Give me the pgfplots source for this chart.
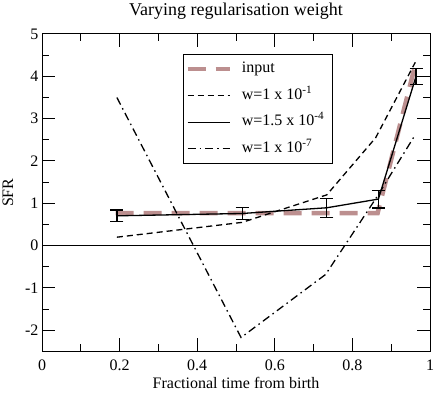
\documentclass[border=0pt]{standalone}
\usepackage{fontspec}
\setmainfont{Liberation Serif}
\usepackage{pgfplots}
\pgfplotsset{compat=1.18}
\definecolor{rosy}{RGB}{188,143,143}
\newcommand{\sz}{\fontsize{16bp}{19bp}\selectfont}

\begin{document}
\begin{tikzpicture}
\begin{axis}[
  scale only axis,
  width=388bp, height=317.5bp,
  xmin=0, xmax=1, ymin=-2.5, ymax=5,
  xtick={0,0.2,0.4,0.6,0.8,1},
  xticklabels={0,0.2,0.4,0.6,0.8,1},
  minor xtick={0.1,0.3,0.5,0.7,0.9},
  ytick={-2,-1,0,1,2,3,4,5},
  minor ytick={-1.5,-0.5,0.5,1.5,2.5,3.5,4.5},
  major tick length=13bp, minor tick length=7bp,
  axis line style={line width=1bp},
  every tick/.style={black, line width=1bp},
  /pgf/number format/assume math mode=true,
  tick label style={font=\sz},
  xticklabel style={yshift=-4.5bp},
  every axis x label/.style={at={(axis description cs:0.5,-0.1165)}, anchor=base, font=\sz},
  every axis y label/.style={at={(axis description cs:-0.0876,0.5)}, rotate=90, anchor=center, font=\sz},
  xlabel={Fractional time from birth},
  ylabel={SFR},
  title={Varying regularisation weight},
  every axis title/.style={at={(axis description cs:0.5,1.0589)}, anchor=base,
    font=\fontsize{18bp}{21bp}\selectfont},
  legend image code/.code={\draw[#1] (0bp,0bp) -- (42bp,0bp);},
  legend cell align=left,
  legend style={at={(0.363,0.937)}, anchor=north west, draw=black, line width=1bp,
    inner xsep=2bp, inner ysep=1.5bp, column sep=4bp, font=\sz,
    nodes={inner xsep=6bp, inner ysep=6bp, text height=11bp, text depth=3.5bp}},
]
\addplot[black, line width=1bp, forget plot] coordinates {(0,0) (1,0)};
\addplot[rosy, line width=4.5bp, dash pattern=on 18bp off 10bp] coordinates {
  (0.19,0.77) (0.865,0.77) (0.962,4.27)};
\addlegendentry{input}
\addplot[black, line width=1.3bp, dash pattern=on 6bp off 4bp] coordinates {
  (0.193,0.2) (0.516,0.55) (0.734,1.2) (0.86,2.55) (0.962,4.33)};
\addlegendentry{w=1 x 10\textsuperscript{-1}}
\addplot[black, line width=1.3bp,
  error bars/.cd, y dir=both, y explicit,
  error bar style={line width=1.3bp, solid},
  error mark options={rotate=90, mark size=6.5bp, line width=1.3bp}] coordinates {
  (0.193,0.705) +- (0,0.135)
  (0.516,0.76) +- (0,0.14)
  (0.734,0.895) +- (0,0.225)
  (0.867,1.10) +- (0,0.21)
  (0.964,4.0) +- (0,0.19)};
\addlegendentry{w=1.5 x 10\textsuperscript{-4}}
\addplot[black, line width=1.3bp, dash pattern=on 8bp off 4bp on 1.5bp off 4bp] coordinates {
  (0.193,3.5) (0.513,-2.17) (0.731,-0.68) (0.863,1.15) (0.958,2.56)};
\addlegendentry{w=1 x 10\textsuperscript{-7}}
\end{axis}
\pgfresetboundingbox
\path[use as bounding box] ([shift={(-42bp,-41.5bp)}]current axis.south west)
  rectangle ([shift={(6bp,34bp)}]current axis.north east);
\end{tikzpicture}
\end{document}
